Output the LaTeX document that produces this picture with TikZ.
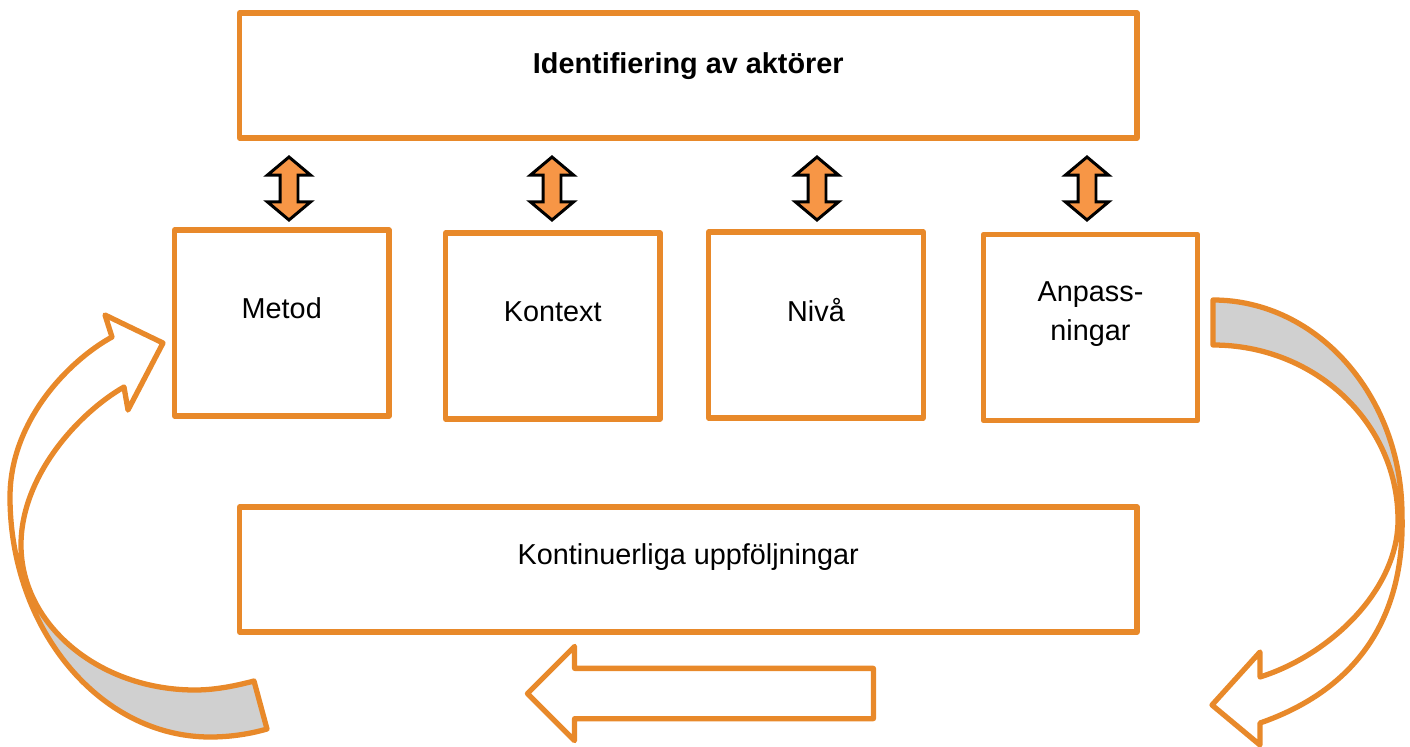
\documentclass[tikz,border=0pt]{standalone}
\usepackage{fontspec}
\setmainfont{Liberation Sans}
\usepackage{tikz}
\usetikzlibrary{shapes.arrows}
\definecolor{ramorange}{HTML}{E8892A}
\definecolor{pilorange}{HTML}{F79646}
\definecolor{baksida}{HTML}{D0D0D0}
\tikzset{
  ruta/.style={draw=ramorange, line width=3pt, line join=round, rectangle, inner sep=0pt},
  stor/.style={ruta, minimum width=17.95cm, minimum height=2.5cm},
  liten/.style={ruta, minimum width=4.29cm, minimum height=3.72cm},
  txt/.style={font=\fontsize{16.4}{22.5}\selectfont, align=center, inner sep=0pt},
  dubbel/.style={double arrow, draw=black, fill=pilorange, line width=1.7pt, rotate=90,
    minimum height=1.26cm, inner sep=0.15cm, double arrow head extend=0.25cm,
    double arrow tip angle=100},
  kontur/.style={draw=ramorange, line width=3pt, line join=round},
}

\begin{document}
\begin{tikzpicture}[x=0.02cm, y=-0.02cm]
	\useasboundingbox (0,0) rectangle (1410,747);
	% rutor
	\node[stor] (topp) at (688.25,75.5) {};
	\node[liten] (metod) at (281.75,323) {};
	\node[liten] (kontext) at (552.75,326) {};
	\node[liten] (niva) at (816,325) {};
	\node[liten] (anpass) at (1090.5,327.5) {};
	\node[stor] (uppf) at (688.25,569.5) {};
	% texter
	\node[txt] (topptext) at ([yshift=0.18cm]topp.center) {\textbf{Identifiering av aktörer}};
	\node[txt] (metodtext) at ([yshift=0.29cm]metod.center) {Metod};
	\node[txt] (kontexttext) at ([yshift=0.29cm]kontext.center) {Kontext};
	\node[txt] (nivatext) at ([yshift=0.29cm]niva.center) {Nivå};
	\node[txt] (anpasstext) at ([yshift=0.27cm]anpass.center) {Anpass-\\ningar};
	\node[txt] (uppftext) at ([yshift=0.24cm]uppf.center) {Kontinuerliga uppföljningar};
	% dubbelpilar
	\node[dubbel] (pil1) at (289,188.5) {};
	\node[dubbel] (pil2) at (552,188.5) {};
	\node[dubbel] (pil3) at (817,188.5) {};
	\node[dubbel] (pil4) at (1087,188.5) {};
	% rak pil nere
	\node[kontur, single arrow, rotate=180, minimum height=6.92cm, inner sep=0.45cm,
	      single arrow head extend=0.44cm, single arrow tip angle=90] (bakpil) at (713,693.5) {};
	% böjd pil vänster
	\path[save path=\vanster] (112,337) .. controls (70,360) and (10,420) .. (10,497)
	     .. controls (10,629) and (100,737) .. (210,737)
	     .. controls (230,737) and (250,734) .. (267,729)
	     -- (254,681)
	     .. controls (235,686) and (215,690) .. (195,690)
	     .. controls (99.5,690) and (21,625) .. (21,545)
	     .. controls (21,475) and (80,412) .. (124,387)
	     -- (128,410) -- (163,343) -- (105,315) -- cycle;
	\begin{scope}
		\clip (0,568) rectangle (300,747);
		\fill[baksida, use path=\vanster];
	\end{scope}
	\draw[kontur, use path=\vanster];
	% böjd pil höger
	\path[save path=\hoger] (1213,300) .. controls (1317,300) and (1402,396) .. (1402,515)
	     .. controls (1405,620) and (1355,690) .. (1260,723)
	     -- (1260,745) -- (1212,705) -- (1260,652) -- (1260,677)
	     .. controls (1330,655) and (1398,590) .. (1398,520)
	     .. controls (1398,423) and (1315,345) .. (1213,345) -- cycle;
	\begin{scope}
		\clip (1200,280) rectangle (1410,515);
		\fill[baksida, use path=\hoger];
	\end{scope}
	\draw[kontur, use path=\hoger];
\end{tikzpicture}
\end{document}
